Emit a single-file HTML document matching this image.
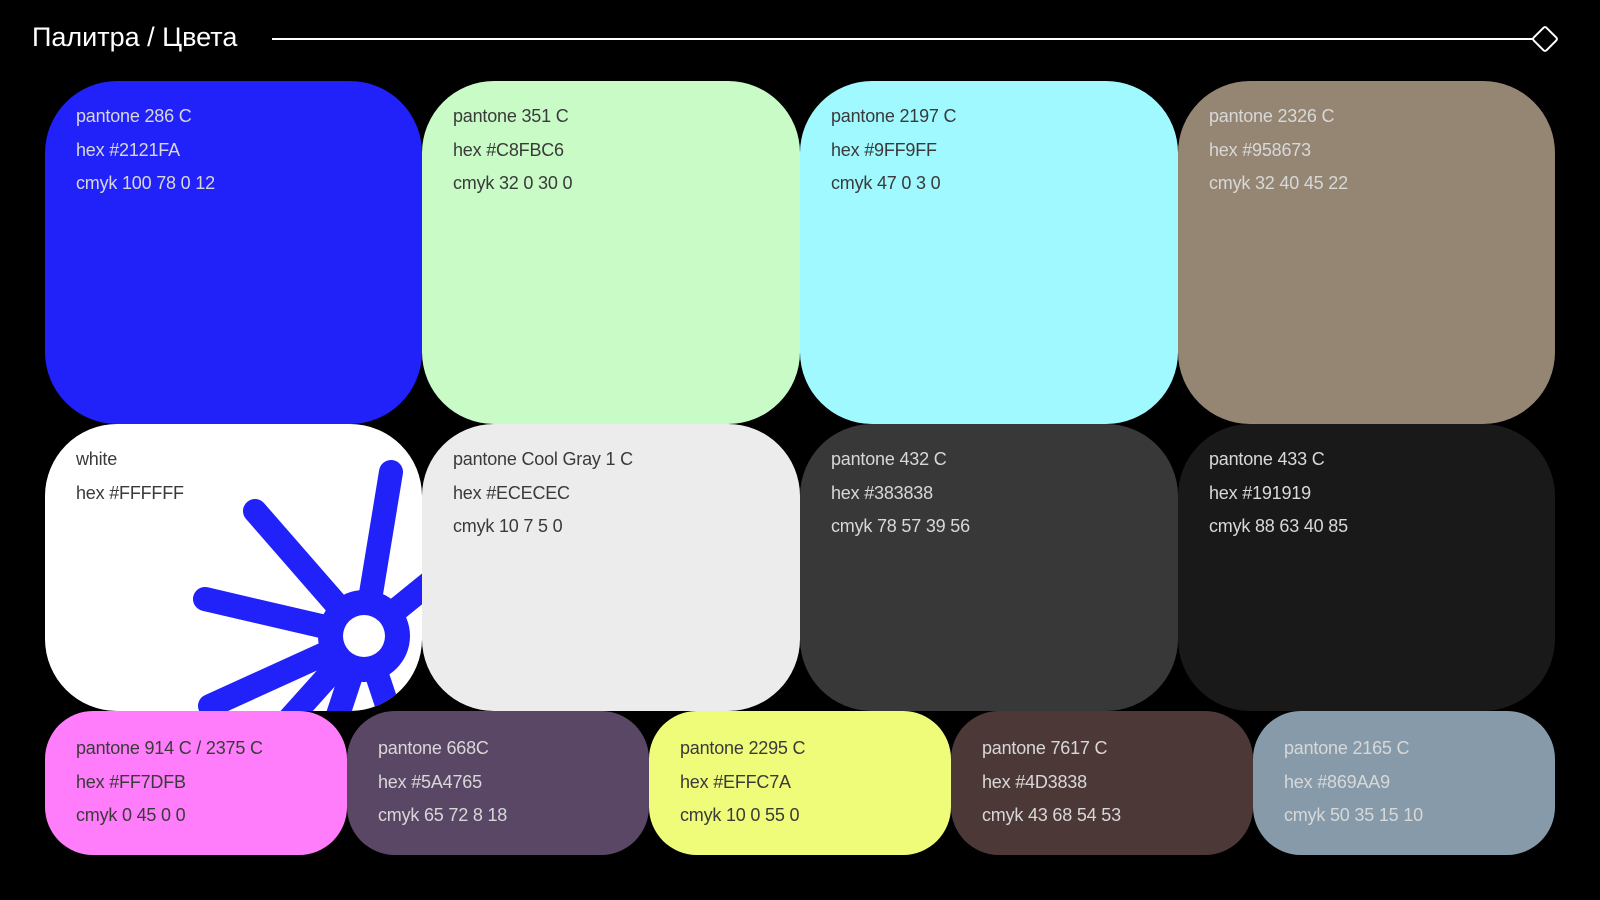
<!DOCTYPE html>
<html><head><meta charset="utf-8"><style>
*{margin:0;padding:0;box-sizing:border-box}
body{width:1600px;height:900px;background:#000;position:relative;overflow:hidden;font-family:"Liberation Sans",sans-serif}
.c{position:absolute;overflow:hidden;padding:19px 0 0 31px;font-size:18px;line-height:33.5px;letter-spacing:-0.2px}
.big{border-radius:72px}
.sm{border-radius:48px;padding-top:21px}
.d{color:#3a3a3a}.l{color:#d8d8d8}
</style></head><body>
<div style="position:absolute;left:32px;top:22px;color:#fff;font-size:27px">Палитра / Цвета</div>
<div style="position:absolute;left:272px;top:38px;width:1262px;height:2px;background:#fff"></div>
<div style="position:absolute;left:1535px;top:29px;width:20px;height:20px;border:2px solid #fff;transform:rotate(45deg);border-radius:3px"></div>

<div class="c big l" style="left:45px;top:81px;width:377px;height:343px;background:#2121FA">pantone 286 C<br>hex #2121FA<br>cmyk 100 78 0 12</div>
<div class="c big d" style="left:422px;top:81px;width:378px;height:343px;background:#C8FBC6">pantone 351 C<br>hex #C8FBC6<br>cmyk 32 0 30 0</div>
<div class="c big d" style="left:800px;top:81px;width:378px;height:343px;background:#9FF9FF">pantone 2197 C<br>hex #9FF9FF<br>cmyk 47 0 3 0</div>
<div class="c big l" style="left:1178px;top:81px;width:377px;height:343px;background:#958673">pantone 2326 C<br>hex #958673<br>cmyk 32 40 45 22</div>

<div class="c big d" style="left:45px;top:424px;width:377px;height:287px;background:#fff">white<br>hex #FFFFFF
<svg style="position:absolute;left:0;top:0" width="377" height="287" viewBox="0 0 377 287">
<g fill="#2121FA" stroke="#2121FA" stroke-width="24" stroke-linecap="round">
<line x1="319" y1="212" x2="346" y2="48"/>
<line x1="319" y1="212" x2="210" y2="87"/>
<line x1="319" y1="212" x2="160" y2="175"/>
<line x1="319" y1="212" x2="165" y2="282"/>
<line x1="319" y1="212" x2="240" y2="300"/>
<line x1="319" y1="212" x2="290" y2="300"/>
<line x1="319" y1="212" x2="345" y2="290"/>
<line x1="319" y1="212" x2="420" y2="130"/>
</g>
<circle cx="319" cy="212" r="46" fill="#2121FA"/>
<circle cx="319" cy="212" r="21" fill="#fff"/>
</svg></div>
<div class="c big d" style="left:422px;top:424px;width:378px;height:287px;background:#ECECEC">pantone Cool Gray 1 C<br>hex #ECECEC<br>cmyk 10 7 5 0</div>
<div class="c big l" style="left:800px;top:424px;width:378px;height:287px;background:#383838">pantone 432 C<br>hex #383838<br>cmyk 78 57 39 56</div>
<div class="c big l" style="left:1178px;top:424px;width:377px;height:287px;background:#191919">pantone 433 C<br>hex #191919<br>cmyk 88 63 40 85</div>

<div class="c sm d" style="left:45px;top:711px;width:302px;height:144px;background:#FF7DFB">pantone 914 C / 2375 C<br>hex #FF7DFB<br>cmyk 0 45 0 0</div>
<div class="c sm l" style="left:347px;top:711px;width:302px;height:144px;background:#5A4765">pantone 668C<br>hex #5A4765<br>cmyk 65 72 8 18</div>
<div class="c sm d" style="left:649px;top:711px;width:302px;height:144px;background:#EFFC7A">pantone 2295 C<br>hex #EFFC7A<br>cmyk 10 0 55 0</div>
<div class="c sm l" style="left:951px;top:711px;width:302px;height:144px;background:#4D3838">pantone 7617 C<br>hex #4D3838<br>cmyk 43 68 54 53</div>
<div class="c sm l" style="left:1253px;top:711px;width:302px;height:144px;background:#869AA9">pantone 2165 C<br>hex #869AA9<br>cmyk 50 35 15 10</div>
</body></html>
